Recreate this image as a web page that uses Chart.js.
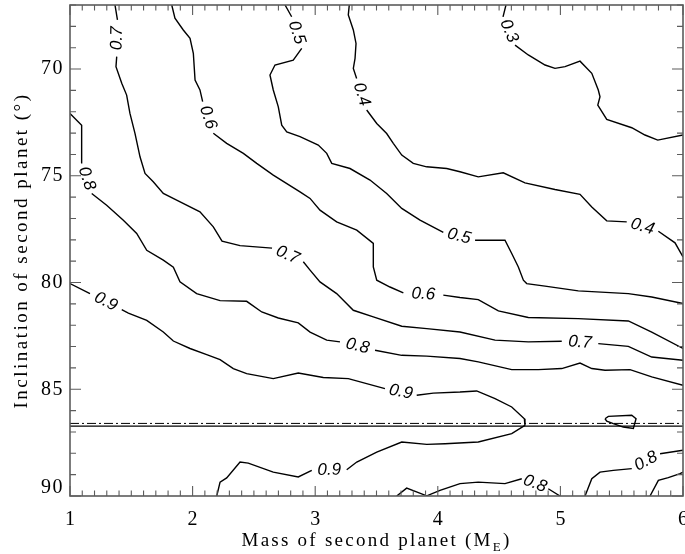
<!DOCTYPE html>
<html>
<head>
<meta charset="utf-8">
<script src="https://cdn.jsdelivr.net/npm/chart.js@4.4.1/dist/chart.umd.min.js"></script>
<style>
html,body{margin:0;padding:0;background:#fff;}
#wrap{width:685px;height:554px;}
</style>
</head>
<body>
<div id="wrap"><canvas id="c" width="685" height="554"></canvas></div>
<script>
// ---- axis ranges and tick labels ----
const xRange = [1, 6];
const yRange = [67, 90];
const xTickValues = [1, 2, 3, 4, 5, 6];
const xTickLabels = ['1', '2', '3', '4', '5', '6'];
const yTickValues = [70, 75, 80, 85, 90];
const yTickLabels = ['70', '75', '80', '85', '90'];
const xTitle = ['Mass of second planet (M', 'E', ')'];
const yTitle = 'Inclination of second planet (\u00B0)';

// ---- horizontal reference lines (inclination, degrees) ----
const dashDotLevel = 86.60;
const solidLevel = 86.73;

// ---- contour lines: [mass, inclination]; null = gap holding a label ----
const c03 = [[4.556,67.00],[4.532,67.56],null,
  [4.630,68.88],[4.738,69.34],[4.875,69.81],[4.956,69.97],[5.038,69.89],[5.160,69.63],
  [5.256,70.20],[5.309,70.98],[5.323,71.30],[5.305,71.69],[5.378,72.36],[5.582,72.75],
  [5.690,73.09],[5.794,73.33],[6.000,73.09]];

const c04 = [[3.278,67.00],[3.270,67.47],[3.311,68.17],[3.333,68.80],[3.325,69.50],[3.311,69.97],[3.338,70.44],null,
  [3.420,71.92],[3.502,72.55],[3.583,73.02],[3.637,73.48],[3.706,74.03],[3.800,74.42],[3.909,74.58],
  [4.073,74.66],[4.181,74.81],[4.330,75.05],[4.534,74.86],[4.711,75.33],[4.956,75.64],[5.160,75.87],
  [5.256,76.46],[5.378,77.11],[5.541,77.16],null,
  [5.799,77.60],[5.935,78.14],[6.000,78.80]];

const c05 = [[2.754,67.00],[2.808,67.55],null,
  [2.890,69.03],[2.821,69.58],[2.672,69.81],[2.631,70.28],[2.658,70.98],[2.699,71.77],[2.727,72.63],
  [2.768,72.94],[2.876,73.17],[3.025,73.56],[3.094,73.95],[3.135,74.42],[3.284,74.66],[3.447,75.20],
  [3.583,75.83],[3.706,76.53],[3.855,77.08],[4.045,77.65],null,
  [4.304,78.02],[4.548,78.02],[4.603,78.64],[4.657,79.27],[4.698,79.89],[4.725,80.05],[4.875,80.17],
  [5.146,80.39],[5.554,80.52],[5.745,80.68],[6.000,80.98]];

const c06 = [[1.830,67.00],[1.856,67.62],[1.924,68.17],[1.979,68.56],[2.006,69.26],[2.020,70.52],[2.060,70.98],[2.082,71.53],null,
  [2.169,73.01],[2.278,73.48],[2.414,73.95],[2.523,74.42],[2.658,74.97],[2.876,75.75],[2.958,76.06],
  [3.039,76.61],[3.175,77.16],[3.339,77.55],[3.474,78.17],[3.474,79.27],[3.502,79.89],[3.610,80.21],
  [3.719,80.49],null,
  [4.045,80.59],[4.181,80.70],[4.330,80.80],[4.494,81.33],[4.738,81.64],[5.146,81.69],[5.554,81.80],
  [5.745,82.32],[6.000,83.09]];

const c07 = [[1.367,67.00],[1.387,67.70],null,
  [1.381,69.42],[1.375,69.89],[1.422,70.67],[1.462,71.22],[1.489,72.08],[1.530,73.01],[1.571,74.11],
  [1.612,74.89],[1.679,75.28],[1.761,75.83],[1.870,76.14],[2.060,76.69],[2.169,77.39],[2.240,78.06],
  [2.387,78.27],[2.648,78.39],null,
  [2.903,79.03],[2.958,79.42],[3.039,79.97],[3.175,80.52],[3.311,81.30],[3.474,81.61],[3.706,82.05],
  [3.910,82.16],[4.181,82.32],[4.467,82.70],[4.738,82.78],[5.011,82.75],null,
  [5.309,82.86],[5.554,82.99],[5.745,83.49],[6.000,83.64]];

const c08 = [[1.000,72.08],[1.095,72.63],[1.095,74.42],null,
  [1.177,75.83],[1.299,76.38],[1.435,77.08],[1.544,77.70],[1.626,78.49],[1.761,78.95],[1.843,79.28],
  [1.897,79.97],[2.033,80.52],[2.224,80.85],[2.441,80.88],[2.564,81.38],[2.699,81.66],[2.862,81.89],
  [2.958,82.32],[3.094,82.70],[3.202,82.78],null,
  [3.488,83.17],[3.706,83.41],[3.910,83.45],[4.181,83.56],[4.330,83.72],[4.603,84.08],[4.820,84.08],
  [5.011,84.03],[5.160,83.77],[5.256,84.03],[5.364,84.11],[5.568,84.08],[5.745,84.42],[6.000,84.81]];

const c09 = [[1.000,80.05],[1.163,80.52],null,
  [1.422,81.27],[1.476,81.43],[1.626,81.77],[1.761,82.32],[1.843,82.74],[1.979,83.09],[2.115,83.38],
  [2.224,83.61],[2.332,84.03],[2.441,84.27],[2.658,84.50],[2.862,84.24],[3.066,84.45],[3.270,84.50],
  [3.569,84.97],null,
  [3.828,85.28],[3.963,85.18],[4.181,85.13],[4.317,85.08],[4.467,85.44],[4.603,85.83],[4.706,86.38],
  [4.711,86.69],[4.603,87.08],[4.330,87.47],[4.059,87.55],[3.910,87.58],[3.706,87.47],[3.502,87.94],
  [3.339,88.41],[3.257,88.77],null,
  [2.972,88.80],[2.862,89.11],[2.658,88.88],[2.454,88.46],[2.387,88.41],[2.278,89.15],[2.224,89.35],
  [2.197,90.00]];

const c09loop = [[5.364,86.38],[5.391,86.27],[5.582,86.22],[5.617,86.38],[5.595,86.84],[5.513,86.77],
  [5.432,86.61],[5.378,86.49],[5.364,86.38]];

const c08low = [[3.665,90.00],[3.746,89.63],[3.910,89.99],[4.018,89.74],[4.181,89.42],[4.330,89.35],
  [4.548,89.42],[4.685,89.19],null,[4.901,89.66],[4.997,90.00]];

const c08right = [[5.201,90.00],[5.256,89.19],[5.323,88.88],[5.432,88.80],[5.582,88.72],null,
  [5.813,88.02],[6.000,87.86]];

const c07corner = [[5.731,90.00],[5.799,89.27],[5.880,89.14],[5.976,88.95],[6.000,88.88]];

const contourLevels = [0.3, 0.4, 0.5, 0.6, 0.7, 0.8, 0.9, 0.9, 0.8, 0.8, 0.7];
const contourLines = [c03, c04, c05, c06, c07, c08, c09, c09loop, c08low, c08right, c07corner];

// ---- build datasets ----
function toPoints(arr) {
  const out = [];
  let lastX = 1;
  arr.forEach(p => {
    if (p === null) { out.push({x: lastX, y: null}); }
    else { lastX = p[0]; out.push({x: p[0], y: p[1]}); }
  });
  return out;
}

const datasets = contourLines.map((arr, i) => ({
  label: 'level ' + contourLevels[i],
  data: toPoints(arr),
  showLine: true,
  spanGaps: false,
  borderColor: '#000',
  borderWidth: 1.4,
  pointRadius: 0,
  fill: false
}));
datasets.push({
  label: 'dash-dot', data: [{x: xRange[0], y: dashDotLevel}, {x: xRange[1], y: dashDotLevel}],
  showLine: true, borderColor: '#000', borderWidth: 1, borderDash: [9, 3, 2, 3], pointRadius: 0
});
datasets.push({
  label: 'solid', data: [{x: xRange[0], y: solidLevel}, {x: xRange[1], y: solidLevel}],
  showLine: true, borderColor: '#000', borderWidth: 1.2, pointRadius: 0
});

function setSpacing(ctx, s) {
  if ('letterSpacing' in ctx) ctx.letterSpacing = s + 'px';
}

const framePlugin = {
  id: 'frame',
  afterDatasetsDraw(chart) {
    const ctx = chart.ctx;
    const xs = chart.scales.x, ys = chart.scales.y;
    const a = chart.chartArea;

    // contour labels in gaps
    ctx.save();
    ctx.fillStyle = '#000';
    ctx.font = 'italic 17px "Liberation Sans", Arial, sans-serif';
    ctx.textAlign = 'center';
    ctx.textBaseline = 'middle';
    contourLines.forEach((arr, ci) => {
      for (let i = 1; i < arr.length - 1; i++) {
        if (arr[i] !== null) continue;
        const p = arr[i - 1], q = arr[i + 1];
        const x1 = xs.getPixelForValue(p[0]), y1 = ys.getPixelForValue(p[1]);
        const x2 = xs.getPixelForValue(q[0]), y2 = ys.getPixelForValue(q[1]);
        let ang = Math.atan2(y2 - y1, x2 - x1);
        if (ang > Math.PI / 2) ang -= Math.PI;
        if (ang < -Math.PI / 2) ang += Math.PI;
        ctx.save();
        ctx.translate((x1 + x2) / 2, (y1 + y2) / 2);
        ctx.rotate(ang);
        ctx.fillText(contourLevels[ci].toFixed(1), 0, 0);
        ctx.restore();
      }
    });
    ctx.restore();

    // frame
    ctx.save();
    ctx.strokeStyle = '#5c5c5c';
    ctx.lineWidth = 1.6;
    ctx.strokeRect(a.left, a.top, a.right - a.left, a.bottom - a.top);
    ctx.lineWidth = 1.1;
    ctx.beginPath();
    for (let k = 0; k <= 50; k++) {
      const v = xRange[0] + k * 0.1;
      const px = xs.getPixelForValue(v);
      const len = (k % 10 === 0) ? 10 : 5.5;
      ctx.moveTo(px, a.bottom); ctx.lineTo(px, a.bottom - len);
      ctx.moveTo(px, a.top); ctx.lineTo(px, a.top + len);
    }
    for (let v = yRange[0]; v <= yRange[1]; v++) {
      const py = ys.getPixelForValue(v);
      const len = (v % 5 === 0) ? 11 : 6;
      ctx.moveTo(a.left, py); ctx.lineTo(a.left + len, py);
      ctx.moveTo(a.right, py); ctx.lineTo(a.right - len, py);
    }
    ctx.stroke();
    ctx.restore();

    // tick labels
    ctx.save();
    ctx.fillStyle = '#000';
    ctx.font = '20px "Liberation Serif", "Times New Roman", serif';
    setSpacing(ctx, 1.5);
    ctx.textAlign = 'center';
    ctx.textBaseline = 'middle';
    xTickValues.forEach((v, i) => {
      ctx.fillText(xTickLabels[i], xs.getPixelForValue(v) + 0.75, a.bottom + 24);
    });
    ctx.textAlign = 'right';
    yTickValues.forEach((v, i) => {
      const py = Math.min(ys.getPixelForValue(v), a.bottom - 8);
      ctx.fillText(yTickLabels[i], a.left - 6, py);
    });
    ctx.restore();

    // axis titles
    ctx.save();
    ctx.fillStyle = '#000';
    const bigFont = '19px "Liberation Serif", "Times New Roman", serif';
    const subFont = '13px "Liberation Serif", "Times New Roman", serif';
    ctx.textBaseline = 'alphabetic';
    ctx.textAlign = 'left';
    // x title
    setSpacing(ctx, 0);
    const fonts = [bigFont, subFont, bigFont];
    let natural = 0, nChars = 0;
    xTitle.forEach((t, i) => { ctx.font = fonts[i]; natural += ctx.measureText(t).width; nChars += t.length; });
    const targetX = 270;
    const sx = Math.max(0, (targetX - natural) / nChars);
    let cx = (a.left + a.right) / 2 - targetX / 2;
    const base = 546;
    xTitle.forEach((t, i) => {
      ctx.font = fonts[i];
      setSpacing(ctx, 0);
      const w = ctx.measureText(t).width + t.length * sx;
      setSpacing(ctx, sx);
      ctx.fillText(t, cx, i === 1 ? base + 5 : base);
      cx += w;
    });
    // y title
    ctx.font = bigFont;
    setSpacing(ctx, 0);
    const wy = ctx.measureText(yTitle).width;
    const targetY = 316;
    const sy = Math.max(0, (targetY - wy) / yTitle.length);
    setSpacing(ctx, sy);
    ctx.translate(27, (a.top + a.bottom) / 2);
    ctx.rotate(-Math.PI / 2);
    ctx.textAlign = 'left';
    ctx.fillText(yTitle, -targetY / 2, 0);
    ctx.restore();
  }
};

new Chart(document.getElementById('c'), {
  type: 'scatter',
  data: { datasets: datasets },
  options: {
    responsive: false,
    animation: false,
    devicePixelRatio: 1,
    layout: { padding: { left: 70, right: 2, top: 5, bottom: 58 } },
    elements: { line: { tension: 0 } },
    scales: {
      x: { type: 'linear', min: xRange[0], max: xRange[1], display: false },
      y: { type: 'linear', min: yRange[0], max: yRange[1], reverse: true, display: false }
    },
    plugins: { legend: { display: false }, tooltip: { enabled: false } }
  },
  plugins: [framePlugin]
});
</script>
</body>
</html>
